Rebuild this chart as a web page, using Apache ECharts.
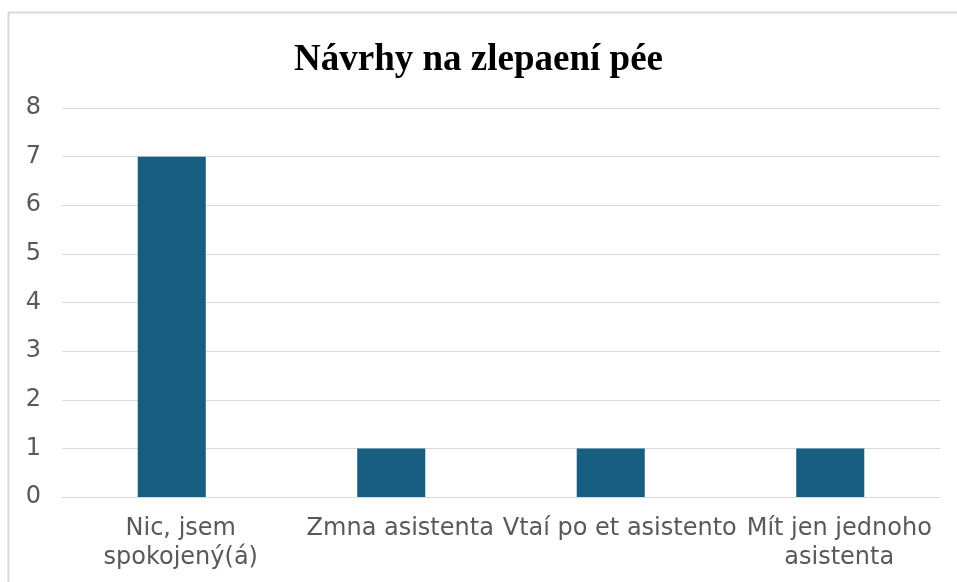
<!DOCTYPE html>
<html><head><meta charset="utf-8">
<script src="https://cdn.jsdelivr.net/npm/echarts@6/dist/echarts.min.js"></script>
<style>html,body{margin:0;padding:0;background:#fff}#c{width:957px;height:582px}</style>
</head><body><div id="c"></div>
<script>
var titleText = 'Návrhy na zlepaení pée';
var categories = ['Nic, jsem\nspokojený(á)', 'Zmna asistenta', 'Vtaí po et asistento', 'Mít jen jednoho\nasistenta'];
var values = [7, 1, 1, 1];
var yTicks = {min: 0, max: 8, interval: 1};

var chart = echarts.init(document.getElementById('c'));
chart.setOption({
  animation: false,
  graphic: [{type: 'rect', shape: {x: 8.5, y: 12.5, width: 960, height: 600}, style: {fill: 'none', stroke: '#d9d9d9', lineWidth: 2}, z: -1}],
  title: {text: titleText, left: 'center', top: 37, textStyle: {fontFamily: 'Liberation Serif', fontWeight: 'bold', fontSize: 37, color: '#000'}},
  grid: {left: 62, right: 17, top: 108, bottom: 85, containLabel: false},
  xAxis: {type: 'category', data: categories,
    axisLine: {lineStyle: {color: '#d9d9d9', width: 1}}, axisTick: {show: false},
    axisLabel: {fontFamily: 'DejaVu Sans', fontSize: 24, color: '#595959', interval: 0, margin: 17, lineHeight: 29, padding: [0, 0, 0, 18]}},
  yAxis: {type: 'value', min: yTicks.min, max: yTicks.max, interval: yTicks.interval,
    axisLine: {show: false}, axisTick: {show: false},
    splitLine: {lineStyle: {color: '#d9d9d9', width: 1}},
    axisLabel: {fontFamily: 'DejaVu Sans', fontSize: 24, color: '#595959', margin: 21, padding: [5, 0, 0, 0]}},
  series: [{type: 'bar', data: values, barWidth: '31%', itemStyle: {color: '#175e80'}}]
});
</script></body></html>
